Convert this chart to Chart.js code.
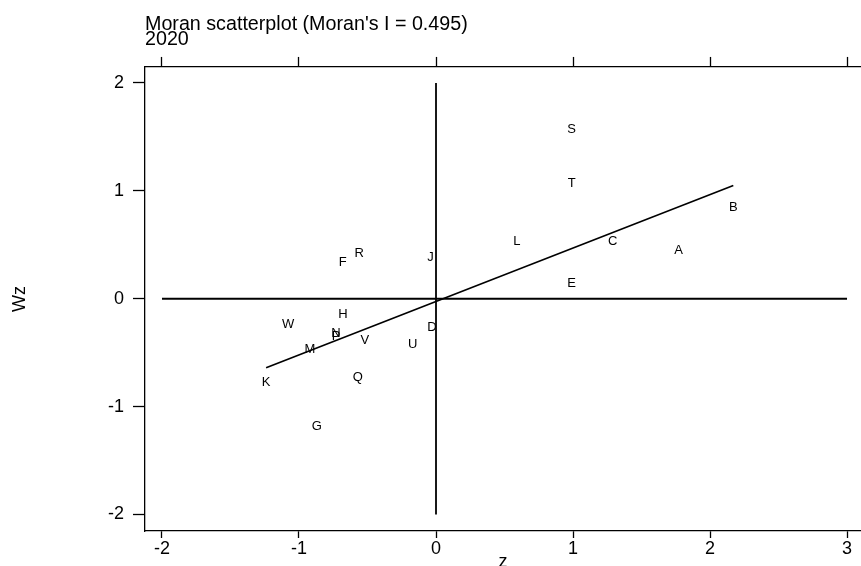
<!DOCTYPE html>
<html>
<head>
<meta charset="utf-8">
<script src="https://cdn.jsdelivr.net/npm/chart.js@4/dist/chart.umd.min.js"></script>
<style>
  body { margin: 0; background: #fff; }
  #wrap { width: 861px; height: 566px; }
</style>
</head>
<body>
<div id="wrap"><canvas id="moran" width="861" height="566"></canvas></div>
<script>
// region labels, z and spatial lag Wz
var names = ['A','B','C','D','E','F','G','H','J','K','L','M','N','P','Q','R','S','T','U','V','W']
var z  = [1.77, 2.17, 1.29, -0.03, 0.99, -0.68, -0.87, -0.68, -0.04, -1.24, 0.59, -0.92, -0.73, -0.73, -0.57, -0.56, 0.99, 0.99, -0.17, -0.52, -1.08]
var wz = [0.45, 0.85, 0.53, -0.27, 0.14, 0.34, -1.18, -0.15, 0.38, -0.78, 0.53, -0.47, -0.32, -0.35, -0.73, 0.42, 1.57, 1.07, -0.42, -0.39, -0.24]

// fitted line (slope = Moran's I) and the two reference lines
var fitX = [-1.24, 2.17]
var fitY = [-0.64, 1.05]
var hLineX = [-2, 3], hLineY = [0, 0]
var vLineX = [0, 0], vLineY = [-2, 2]

var xTicks = [-2, -1, 0, 1, 2, 3]
var yTicks = [-2, -1, 0, 1, 2]

var FONT = "'Liberation Sans', Arial, sans-serif"

function pts(xs, ys) {
  return xs.map(function (x, i) { return { x: x, y: ys[i] } })
}

var labelPlugin = {
  id: 'letters',
  afterDatasetsDraw: function (chart) {
    var ctx = chart.ctx
    var meta = chart.getDatasetMeta(0)
    ctx.save()
    ctx.font = '13px ' + FONT
    ctx.fillStyle = '#000'
    ctx.textAlign = 'center'
    ctx.textBaseline = 'middle'
    meta.data.forEach(function (el, i) {
      ctx.fillText(names[i], el.x, el.y)
    })
    ctx.restore()
  }
}

function lineSet(data, w) {
  return {
    data: data, showLine: true, pointRadius: 0, pointHoverRadius: 0,
    borderColor: '#000', borderWidth: w, fill: false
  }
}

new Chart(document.getElementById('moran').getContext('2d'), {
  type: 'scatter',
  data: {
    datasets: [
      { data: pts(z, wz), pointRadius: 0, pointHoverRadius: 0 },
      lineSet(pts(fitX, fitY), 1.6),
      lineSet(pts(hLineX, hLineY), 2),
      lineSet(pts(vLineX, vLineY), 1.8)
    ]
  },
  options: {
    responsive: false,
    animation: false,
    devicePixelRatio: 1,
    layout: { padding: 0 },
    plugins: {
      legend: { display: false },
      tooltip: { enabled: false },
      title: {
        display: true,
        text: ["Moran scatterplot (Moran's I = 0.495)", '2020'],
        align: 'start',
        fullSize: false,
        color: '#000',
        font: { family: FONT, size: 19.7, weight: 'normal', lineHeight: 0.76 },
        padding: { top: 17.5, bottom: 0 }
      }
    },
    scales: {
      x: {
        type: 'linear', position: 'bottom',
        min: -2.124, max: 3.102,
        afterBuildTicks: function (s) { s.ticks = xTicks.map(function (v) { return { value: v } }) },
        afterFit: function (s) { s.height = 35 },
        border: { display: true, color: '#000', width: 1.3 },
        grid: { drawOnChartArea: false, drawTicks: true, tickLength: 7, color: '#000', tickWidth: 1.3 },
        ticks: { color: '#000', padding: 0, font: { family: FONT, size: 18 }, maxRotation: 0 },
        title: {
          display: true, text: 'z', color: '#000',
          font: { family: FONT, size: 18, lineHeight: 1 },
          padding: { top: 0, bottom: -5 }
        }
      },
      x2: {
        type: 'linear', position: 'top',
        min: -2.124, max: 3.102,
        afterBuildTicks: function (s) { s.ticks = xTicks.map(function (v) { return { value: v } }) },
        afterFit: function (s) { s.height = 19.5 },
        border: { display: true, color: '#000', width: 1.3 },
        grid: { drawOnChartArea: false, drawTicks: true, tickLength: 10, color: '#000', tickWidth: 1.3 },
        ticks: { display: false }
      },
      y: {
        type: 'linear', position: 'left',
        min: -2.153, max: 2.148,
        afterBuildTicks: function (s) { s.ticks = yTicks.map(function (v) { return { value: v } }) },
        afterFit: function (s) { s.width = 145 },
        border: { display: true, color: '#000', width: 1.3 },
        grid: { drawOnChartArea: false, drawTicks: true, tickLength: 12, color: '#000', tickWidth: 1.3 },
        ticks: { color: '#000', padding: 9, font: { family: FONT, size: 18 } },
        title: {
          display: true, text: 'Wz', color: '#000',
          font: { family: FONT, size: 18, lineHeight: 1 },
          padding: { top: 11, bottom: 0 }
        }
      }
    }
  },
  plugins: [labelPlugin]
})
</script>
</body>
</html>
